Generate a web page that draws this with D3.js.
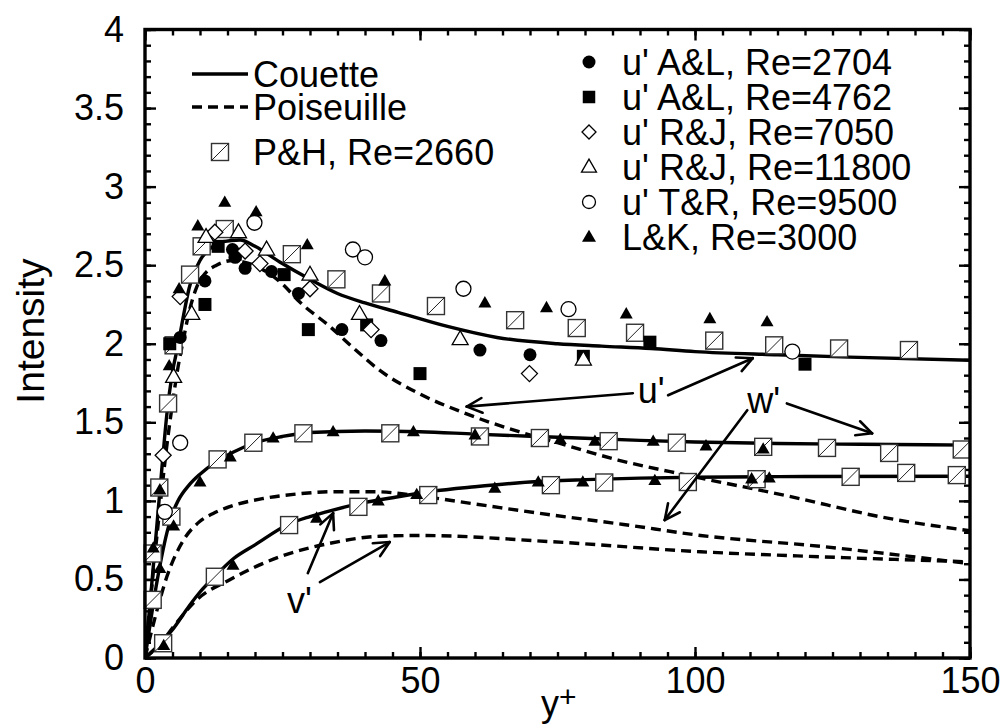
<!DOCTYPE html>
<html>
<head>
<meta charset="utf-8">
<script src="https://cdn.jsdelivr.net/npm/d3@7"></script>
<style>
  body { margin: 0; background: #fff; }
  svg { font-family: "Liberation Sans", Arial, Helvetica, sans-serif; }
</style>
</head>
<body>
<svg width="1006" height="727"></svg>
<script>
// I. Données (y+, intensité)

// courbes DNS
let couetteU = [[0,0],[1,0.38],[2,0.78],[3,1.18],[4,1.56],[5,1.82],[6,1.99],[7,2.18],[8,2.35],[10,2.53],[12,2.61],[14.2,2.65],[17.3,2.66],[20,2.62],[24.5,2.52],[30,2.41],[35,2.32],[40,2.26],[46,2.2],[55,2.11],[64,2.04],[75,2.0],[83,1.985],[92,1.97],[100,1.95],[115,1.93],[128,1.915],[150,1.895]];
let poiseuilleU = [[0,0],[2,0.72],[3,1.05],[4,1.36],[5,1.62],[6,1.85],[7,2.03],[8,2.2],[9.4,2.36],[11,2.45],[13,2.5],[16,2.53],[18,2.52],[21.5,2.47],[25,2.38],[28,2.27],[33.6,2.11],[38,1.97],[42.7,1.83],[50,1.68],[58,1.56],[68,1.44],[75,1.37],[86,1.26],[99,1.16],[117,1.03],[135,0.89],[150,0.81]];
let couetteW = [[0,0],[1,0.23],[2,0.45],[3,0.64],[4,0.8],[5,0.92],[6,1.0],[8,1.1],[10,1.17],[13,1.25],[16,1.31],[20,1.37],[25,1.41],[30,1.435],[40,1.445],[50,1.44],[60,1.425],[75,1.405],[90,1.385],[100,1.375],[115,1.365],[130,1.36],[150,1.355]];
let poiseuilleW = [[0,0],[2,0.28],[4,0.52],[7,0.75],[10,0.87],[12.4,0.92],[16,0.97],[21.5,1.015],[28,1.045],[34,1.058],[42,1.058],[50,1.03],[60,0.98],[74,0.91],[87,0.85],[101,0.78],[123,0.71],[150,0.6]];
let couetteV = [[0,0],[3,0.1],[5,0.18],[8,0.33],[10,0.42],[13,0.53],[16,0.63],[20,0.72],[26,0.85],[30,0.9],[34,0.94],[40,0.99],[45,1.02],[52,1.06],[60,1.09],[70,1.12],[80,1.135],[90,1.145],[100,1.15],[120,1.155],[150,1.157]];
let poiseuilleV = [[0,0],[3,0.1],[5.2,0.2],[9.4,0.37],[15.5,0.5],[24.5,0.644],[33.6,0.73],[42.7,0.775],[50,0.78],[74,0.74],[101,0.676],[123,0.644],[150,0.612]];

// points expérimentaux
let ph2660 = [[1.4,0.37],[1.4,0.665],[2.6,1.085],[4.2,1.62],[4.8,0.9],[5.2,1.99],[8.2,2.44],[10.3,2.62],[14.5,2.73],
  [26.7,2.57],[34.8,2.41],[42.9,2.32],[52.9,2.24],[67.3,2.15],[78.5,2.10],[89.1,2.07],[103.5,2.02],[114.4,1.99],[126.2,1.97],[138.9,1.96],
  [13.2,1.264],[19.7,1.37],[28.8,1.43],[44.6,1.43],[60.9,1.41],[71.8,1.40],[84.3,1.38],[96.7,1.37],[112.4,1.344],[124,1.337],[135.3,1.305],[148.5,1.327],
  [3.3,0.094],[12.7,0.517],[26.2,0.846],[38.8,0.962],[51.5,1.037],[73.8,1.10],[83.5,1.117],[98.7,1.12],[111.2,1.138],[128.3,1.153],[138.4,1.178],[147.6,1.164]];
let al2704 = [[6.4,2.04],[10.9,2.40],[15.9,2.60],[16.4,2.55],[18.2,2.48],[23,2.46],[27.9,2.32],[35.8,2.09],[42.9,2.02],[60.9,1.96],[70,1.93]];
let al4762 = [[4.5,2.0],[10.9,2.25],[13.3,2.62],[16.4,2.57],[25.3,2.44],[29.7,2.09],[40.3,2.12],[50,1.81],[79.7,1.92],[91.8,2.01],[120,1.87]];
let rj7050 = [[3.3,1.29],[6.4,2.3],[12.7,2.71],[18.2,2.59],[20.9,2.51],[30,2.35],[41.1,2.09],[69.9,1.81]];
let rj11800 = [[5.2,1.79],[8.5,2.19],[11.1,2.68],[17,2.71],[22.1,2.60],[30,2.44],[39,2.19],[57.3,2.03],[79.7,1.90]];
let tr9500 = [[3.6,0.93],[6.4,1.37],[19.9,2.77],[37.8,2.60],[40,2.55],[57.9,2.35],[77,2.22],[117.7,1.95]];
let lk3000 = [[1.5,0.70],[2.7,1.07],[4.4,1.86],[6.2,2.35],[9.6,2.75],[14.5,2.90],[20.2,2.84],[29.5,2.63],[43.6,2.40],[61.8,2.26],[73,2.23],[87.5,2.19],[102.7,2.16],[113.1,2.14],
  [2.7,0.57],[5.2,0.84],[10,1.12],[15.5,1.28],[23.3,1.40],[34.2,1.44],[48.8,1.44],[60,1.42],[75.5,1.39],[81.8,1.38],[92.4,1.38],[102,1.35],[112.4,1.33],
  [3.4,0.08],[16,0.59],[31.2,0.89],[42.4,1.0],[49.4,1.04],[63.6,1.08],[71.5,1.12],[79.6,1.12],[92.7,1.13],[110.3,1.14],[113.5,1.145]];

// ticks
let majorX = [0, 50, 100, 150];
let minorX = d3.range(0, 151, 5);
let majorY = [0, 0.5, 1, 1.5, 2, 2.5, 3, 3.5, 4];
let minorY = d3.range(0, 41, 1).map(d => d / 10);

// annotations: flèches [queue x, queue y, pointe x, pointe y] et étiquettes
let arrows = [[88.7,1.685,58.5,1.60],[95.1,1.672,110.5,1.908],[116.7,1.62,132.2,1.43],[109.5,1.577,94.5,0.878],[29.6,0.54,34.2,0.922],[31.8,0.483,44.5,0.738]];
let annotations = [{t:"u'", x:89.6, y:1.62},{t:"w'", x:109.5, y:1.56},{t:"v'", x:25.8, y:0.286}];

// légendes
let legendLines = ["Couette", "Poiseuille", "P&H, Re=2660"];
let legendSeries = ["u' A&L, Re=2704", "u' A&L, Re=4762", "u' R&J, Re=7050", "u' R&J, Re=11800", "u' T&R, Re=9500", "L&K, Re=3000"];

// II. Dessin
let svg = d3.select("svg");
svg.append("rect").attr("width", 1006).attr("height", 727).attr("fill", "#fff");

let x = d3.scaleLinear().domain([0, 150]).range([145, 970]);
let y = d3.scaleLinear().domain([0, 4]).range([658, 29.5]);

// a) axes (ticks vers l'intérieur sur les 4 côtés)
function styleAxis(g, labels) {
  g.select(".domain").remove();
  g.selectAll("line").attr("stroke", "#000").attr("stroke-width", 2.4);
  g.attr("font-family", null).attr("font-size", 36);
  g.selectAll("text").attr("fill", "#000");
}
svg.append("g").attr("transform", `translate(0,${y(0)})`)
  .call(d3.axisBottom(x).tickValues(minorX).tickSize(-6).tickFormat("")).call(styleAxis);
svg.append("g").attr("transform", `translate(0,${y(0)})`)
  .call(d3.axisBottom(x).tickValues(majorX).tickSize(-11).tickPadding(9).tickFormat(d3.format("d"))).call(styleAxis);
svg.append("g").attr("transform", `translate(0,${y(4)})`)
  .call(d3.axisTop(x).tickValues(minorX).tickSize(-6).tickFormat("")).call(styleAxis);
svg.append("g").attr("transform", `translate(0,${y(4)})`)
  .call(d3.axisTop(x).tickValues(majorX).tickSize(-11).tickFormat("")).call(styleAxis);
svg.append("g").attr("transform", `translate(${x(0)},0)`)
  .call(d3.axisLeft(y).tickValues(minorY).tickSize(-6).tickFormat("")).call(styleAxis);
svg.append("g").attr("transform", `translate(${x(0)},0)`)
  .call(d3.axisLeft(y).tickValues(majorY).tickSize(-11).tickPadding(21).tickFormat(d3.format("~g"))).call(styleAxis);
svg.append("g").attr("transform", `translate(${x(150)},0)`)
  .call(d3.axisRight(y).tickValues(minorY).tickSize(-6).tickFormat("")).call(styleAxis);
svg.append("g").attr("transform", `translate(${x(150)},0)`)
  .call(d3.axisRight(y).tickValues(majorY).tickSize(-11).tickFormat("")).call(styleAxis);

// titres d'axes
svg.append("text")
  .attr("transform", "translate(44,331) rotate(-90)")
  .attr("text-anchor", "middle")
  .attr("font-size", 39)
  .text("Intensity");
let xt = svg.append("text").attr("x", 541).attr("y", 716).attr("font-size", 36);
xt.append("tspan").text("y");
xt.append("tspan").attr("dy", -9).attr("font-size", 30).text("+");

// b) courbes
svg.append("clipPath").attr("id", "zone")
  .append("rect").attr("x", x(0)).attr("y", y(4)).attr("width", x(150) - x(0)).attr("height", y(0) - y(4));
let plot = svg.append("g").attr("clip-path", "url(#zone)");

let ligne = d3.line().x(d => x(d[0])).y(d => y(d[1])).curve(d3.curveMonotoneX);
[couetteU, couetteW, couetteV].forEach(function (d) {
  plot.append("path").attr("d", ligne(d))
    .attr("fill", "none").attr("stroke", "#000").attr("stroke-width", 3.4);
});
[poiseuilleU, poiseuilleW, poiseuilleV].forEach(function (d) {
  plot.append("path").attr("d", ligne(d))
    .attr("fill", "none").attr("stroke", "#000").attr("stroke-width", 3.4)
    .attr("stroke-dasharray", "10,6");
});

// c) marqueurs
function marqueur(g, type, s) {
  let h = s / 2;
  if (type == "ph") {
    g.append("rect").attr("x", -h).attr("y", -h).attr("width", s).attr("height", s)
      .attr("fill", "#fff").attr("stroke", "#333").attr("stroke-width", 1.4);
    g.append("line").attr("x1", -h).attr("y1", h).attr("x2", h).attr("y2", -h)
      .attr("stroke", "#222").attr("stroke-width", 1);
  } else if (type == "dot" || type == "ring") {
    g.append("circle").attr("r", h)
      .attr("fill", type == "dot" ? "#000" : "#fff")
      .attr("stroke", "#000").attr("stroke-width", type == "dot" ? 0 : 1.3);
  } else if (type == "box") {
    g.append("rect").attr("x", -h).attr("y", -h).attr("width", s).attr("height", s).attr("fill", "#000");
  } else if (type == "diamond") {
    g.append("path").attr("d", `M0,${-h}L${h},0L0,${h}L${-h},0Z`)
      .attr("fill", "#fff").attr("stroke", "#000").attr("stroke-width", 1.3);
  } else {
    let t = s * 0.87;
    g.append("path").attr("d", `M0,${-t * 0.6}L${h},${t * 0.4}L${-h},${t * 0.4}Z`)
      .attr("fill", type == "tri" ? "#000" : "#fff")
      .attr("stroke", "#000").attr("stroke-width", type == "tri" ? 0 : 1.3);
  }
}

let series = [
  {data: ph2660, type: "ph", s: 17},
  {data: al2704, type: "dot", s: 13},
  {data: al4762, type: "box", s: 13},
  {data: rj7050, type: "diamond", s: 16},
  {data: rj11800, type: "opentri", s: 16},
  {data: tr9500, type: "ring", s: 15},
  {data: lk3000, type: "tri", s: 13}
];
series.forEach(function (serie) {
  svg.append("g").selectAll("g").data(serie.data).enter()
    .append("g")
    .attr("transform", d => `translate(${x(d[0])},${y(d[1])})`)
    .each(function () { marqueur(d3.select(this), serie.type, serie.s); });
});

// d) flèches et étiquettes
arrows.forEach(function (a) {
  let x1 = x(a[0]), y1 = y(a[1]), x2 = x(a[2]), y2 = y(a[3]);
  let ang = Math.atan2(y2 - y1, x2 - x1);
  let g = svg.append("g").attr("stroke", "#000").attr("stroke-width", 2.6).attr("fill", "none")
    .attr("stroke-linecap", "round");
  g.append("line").attr("x1", x1).attr("y1", y1).attr("x2", x2).attr("y2", y2);
  [-0.45, 0.45].forEach(function (da) {
    g.append("line").attr("x1", x2).attr("y1", y2)
      .attr("x2", x2 - 17 * Math.cos(ang + da)).attr("y2", y2 - 17 * Math.sin(ang + da));
  });
});
svg.selectAll("text.note").data(annotations).enter()
  .append("text").attr("class", "note")
  .attr("x", d => x(d.x)).attr("y", d => y(d.y))
  .attr("font-size", 36).text(d => d.t);

// e) légendes
let legL = svg.append("g");
let rowsL = [74, 107, 152];
legendLines.forEach(function (t, i) {
  if (i < 2) {
    legL.append("line").attr("x1", 192).attr("x2", 248).attr("y1", rowsL[i]).attr("y2", rowsL[i])
      .attr("stroke", "#000").attr("stroke-width", 3.4)
      .attr("stroke-dasharray", i == 1 ? "10,6" : null);
  } else {
    marqueur(legL.append("g").attr("transform", `translate(220,${rowsL[i]})`), "ph", 17);
  }
  legL.append("text").attr("x", 253).attr("y", rowsL[i] + 12.5).attr("font-size", 36).text(t);
});

let legR = svg.append("g");
let legTypes = [["dot", 13], ["box", 12.5], ["diamond", 14], ["opentri", 15], ["ring", 13], ["tri", 14]];
legendSeries.forEach(function (t, i) {
  let yb = 75 + 35 * i;
  marqueur(legR.append("g").attr("transform", `translate(589,${yb - 13})`), legTypes[i][0], legTypes[i][1]);
  legR.append("text").attr("x", 622).attr("y", yb).attr("font-size", 36).text(t);
});

// cadre
svg.append("rect").attr("x", x(0)).attr("y", y(4)).attr("width", x(150) - x(0)).attr("height", y(0) - y(4))
  .attr("fill", "none").attr("stroke", "#000").attr("stroke-width", 3.4);
</script>
</body>
</html>
